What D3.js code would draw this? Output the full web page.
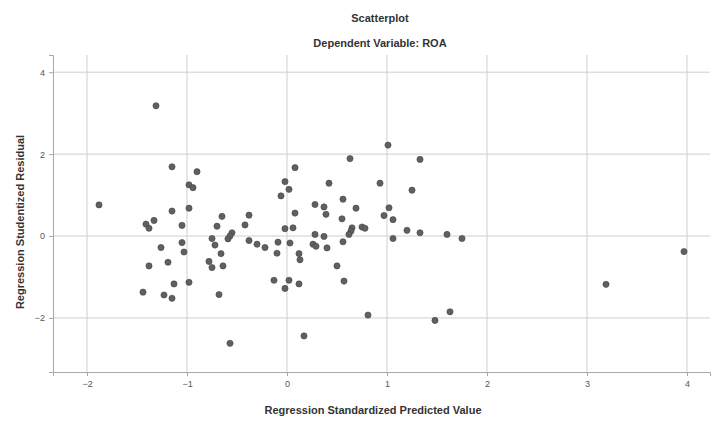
<!DOCTYPE html>
<html>
<head>
<meta charset="utf-8">
<script src="https://cdn.jsdelivr.net/npm/d3@7"></script>
<style>
  body { margin: 0; background: #fff; }
  text { font-family: "Liberation Sans", Arial, sans-serif; }
</style>
</head>
<body>
<div id="chart"></div>
<script>
// predicted value (x) and studentized residual (y)
const predicted = [
  -1.31, -1.88, -1.15, -0.90, -0.98, -0.94, -1.15, -0.98, -1.33, -1.41,
  -1.38, -1.05, -0.65, -0.38, -0.70, -0.42, -0.55, -0.57, -0.59, -0.75,
  -0.72, -0.38, -0.30, -0.22, -0.09, -0.10, -0.66, -0.78, -0.75, -0.64,
  -1.05, -1.03, -1.26, -1.38, -1.19, -1.13, -0.98, -1.44, -1.23, -1.15,
  -0.68, -0.57, -0.02, 0.02, -0.06, 0.08, 0.08, -0.02, 0.06, 0.03,
  0.12, 0.13, -0.13, 0.02, -0.02, 0.12, 0.17, 0.63, 0.42, 0.56,
  0.28, 0.37, 0.39, 0.69, 0.55, 0.65, 0.64, 0.62, 0.75, 0.78,
  0.28, 0.37, 0.26, 0.29, 0.40, 0.56, 0.50, 0.57, 0.81, 1.01,
  1.33, 0.93, 1.25, 1.02, 0.97, 1.06, 1.20, 1.33, 1.60, 1.75,
  1.06, 1.48, 1.63, 3.19, 3.97
];
const residual = [
  3.18, 0.76, 1.69, 1.57, 1.25, 1.18, 0.61, 0.68, 0.38, 0.29,
  0.19, 0.26, 0.48, 0.51, 0.24, 0.27, 0.08, 0.00, -0.07, -0.06,
  -0.22, -0.11, -0.20, -0.28, -0.15, -0.42, -0.43, -0.62, -0.77, -0.73,
  -0.16, -0.39, -0.28, -0.73, -0.64, -1.17, -1.13, -1.37, -1.44, -1.52,
  -1.43, -2.62, 1.33, 1.14, 0.98, 1.67, 0.56, 0.18, 0.20, -0.17,
  -0.43, -0.58, -1.08, -1.08, -1.28, -1.17, -2.44, 1.89, 1.29, 0.90,
  0.77, 0.71, 0.53, 0.68, 0.42, 0.20, 0.12, 0.04, 0.22, 0.19,
  0.04, -0.01, -0.20, -0.25, -0.29, -0.14, -0.73, -1.10, -1.93, 2.22,
  1.87, 1.29, 1.12, 0.69, 0.50, 0.40, 0.14, 0.08, 0.04, -0.06,
  -0.06, -2.06, -1.85, -1.18, -0.38
];
const xTicks = [-2, -1, 0, 1, 2, 3, 4];
const yTicks = [-2, 0, 2, 4];

const W = 716, H = 421;
const margin = { top: 55, right: 6, bottom: 49, left: 53 };
const width = W - margin.left - margin.right;
const height = H - margin.top - margin.bottom;

const svgRoot = d3.select("#chart").append("svg").attr("width", W).attr("height", H);
const svg = svgRoot.append("g").attr("transform", `translate(${margin.left},${margin.top})`);

const x = d3.scaleLinear().domain([-2.34, 4.23]).range([0, width]);
const y = d3.scaleLinear().domain([-3.32, 4.42]).range([height, 0]);

// grid
svg.append("g")
  .selectAll("line")
  .data(xTicks)
  .join("line")
  .attr("x1", (d) => x(d)).attr("x2", (d) => x(d))
  .attr("y1", 0).attr("y2", height)
  .attr("stroke", "#cfcfcf");
svg.append("g")
  .selectAll("line")
  .data(yTicks)
  .join("line")
  .attr("x1", 0).attr("x2", width)
  .attr("y1", (d) => y(d)).attr("y2", (d) => y(d))
  .attr("stroke", "#cfcfcf");

const fmt = d3.format("d");
const xAxis = svg.append("g")
  .attr("transform", `translate(0,${height})`)
  .call(d3.axisBottom(x).tickValues(xTicks).tickFormat(fmt).tickSize(4).tickPadding(5));
const yAxis = svg.append("g")
  .call(d3.axisLeft(y).tickValues(yTicks).tickFormat(fmt).tickSize(4).tickPadding(4));

[xAxis, yAxis].forEach((g) => {
  g.select(".domain").attr("stroke", "#a8a8a8");
  g.selectAll(".tick line").attr("stroke", "#a8a8a8");
  g.selectAll(".tick text")
    .attr("fill", "#555")
    .style("font-size", "9px")
    .style("font-family", "Liberation Sans, Arial, sans-serif");
});

// points
const points = predicted.map((p, i) => ({ p, r: residual[i] }));
svg.append("g")
  .selectAll("circle")
  .data(points)
  .join("circle")
  .attr("cx", (d) => x(d.p))
  .attr("cy", (d) => y(d.r))
  .attr("r", 3.1)
  .attr("fill", "#606060")
  .attr("stroke", "#444")
  .attr("stroke-width", 0.6);

// titles
svgRoot.append("text")
  .attr("x", 380).attr("y", 22)
  .attr("text-anchor", "middle")
  .attr("font-weight", "bold").attr("font-size", 11).attr("fill", "#333")
  .text("Scatterplot");
svgRoot.append("text")
  .attr("x", 380).attr("y", 47)
  .attr("text-anchor", "middle")
  .attr("font-weight", "bold").attr("font-size", 11).attr("fill", "#333")
  .text("Dependent Variable: ROA");

svgRoot.append("text")
  .attr("x", 373).attr("y", 414)
  .attr("text-anchor", "middle")
  .attr("font-weight", "bold").attr("font-size", 11).attr("fill", "#333")
  .text("Regression Standardized Predicted Value");

svgRoot.append("text")
  .attr("transform", "translate(24,222) rotate(-90)")
  .attr("text-anchor", "middle")
  .attr("font-weight", "bold").attr("font-size", 11).attr("fill", "#333")
  .text("Regression Studentized Residual");
</script>
</body>
</html>
